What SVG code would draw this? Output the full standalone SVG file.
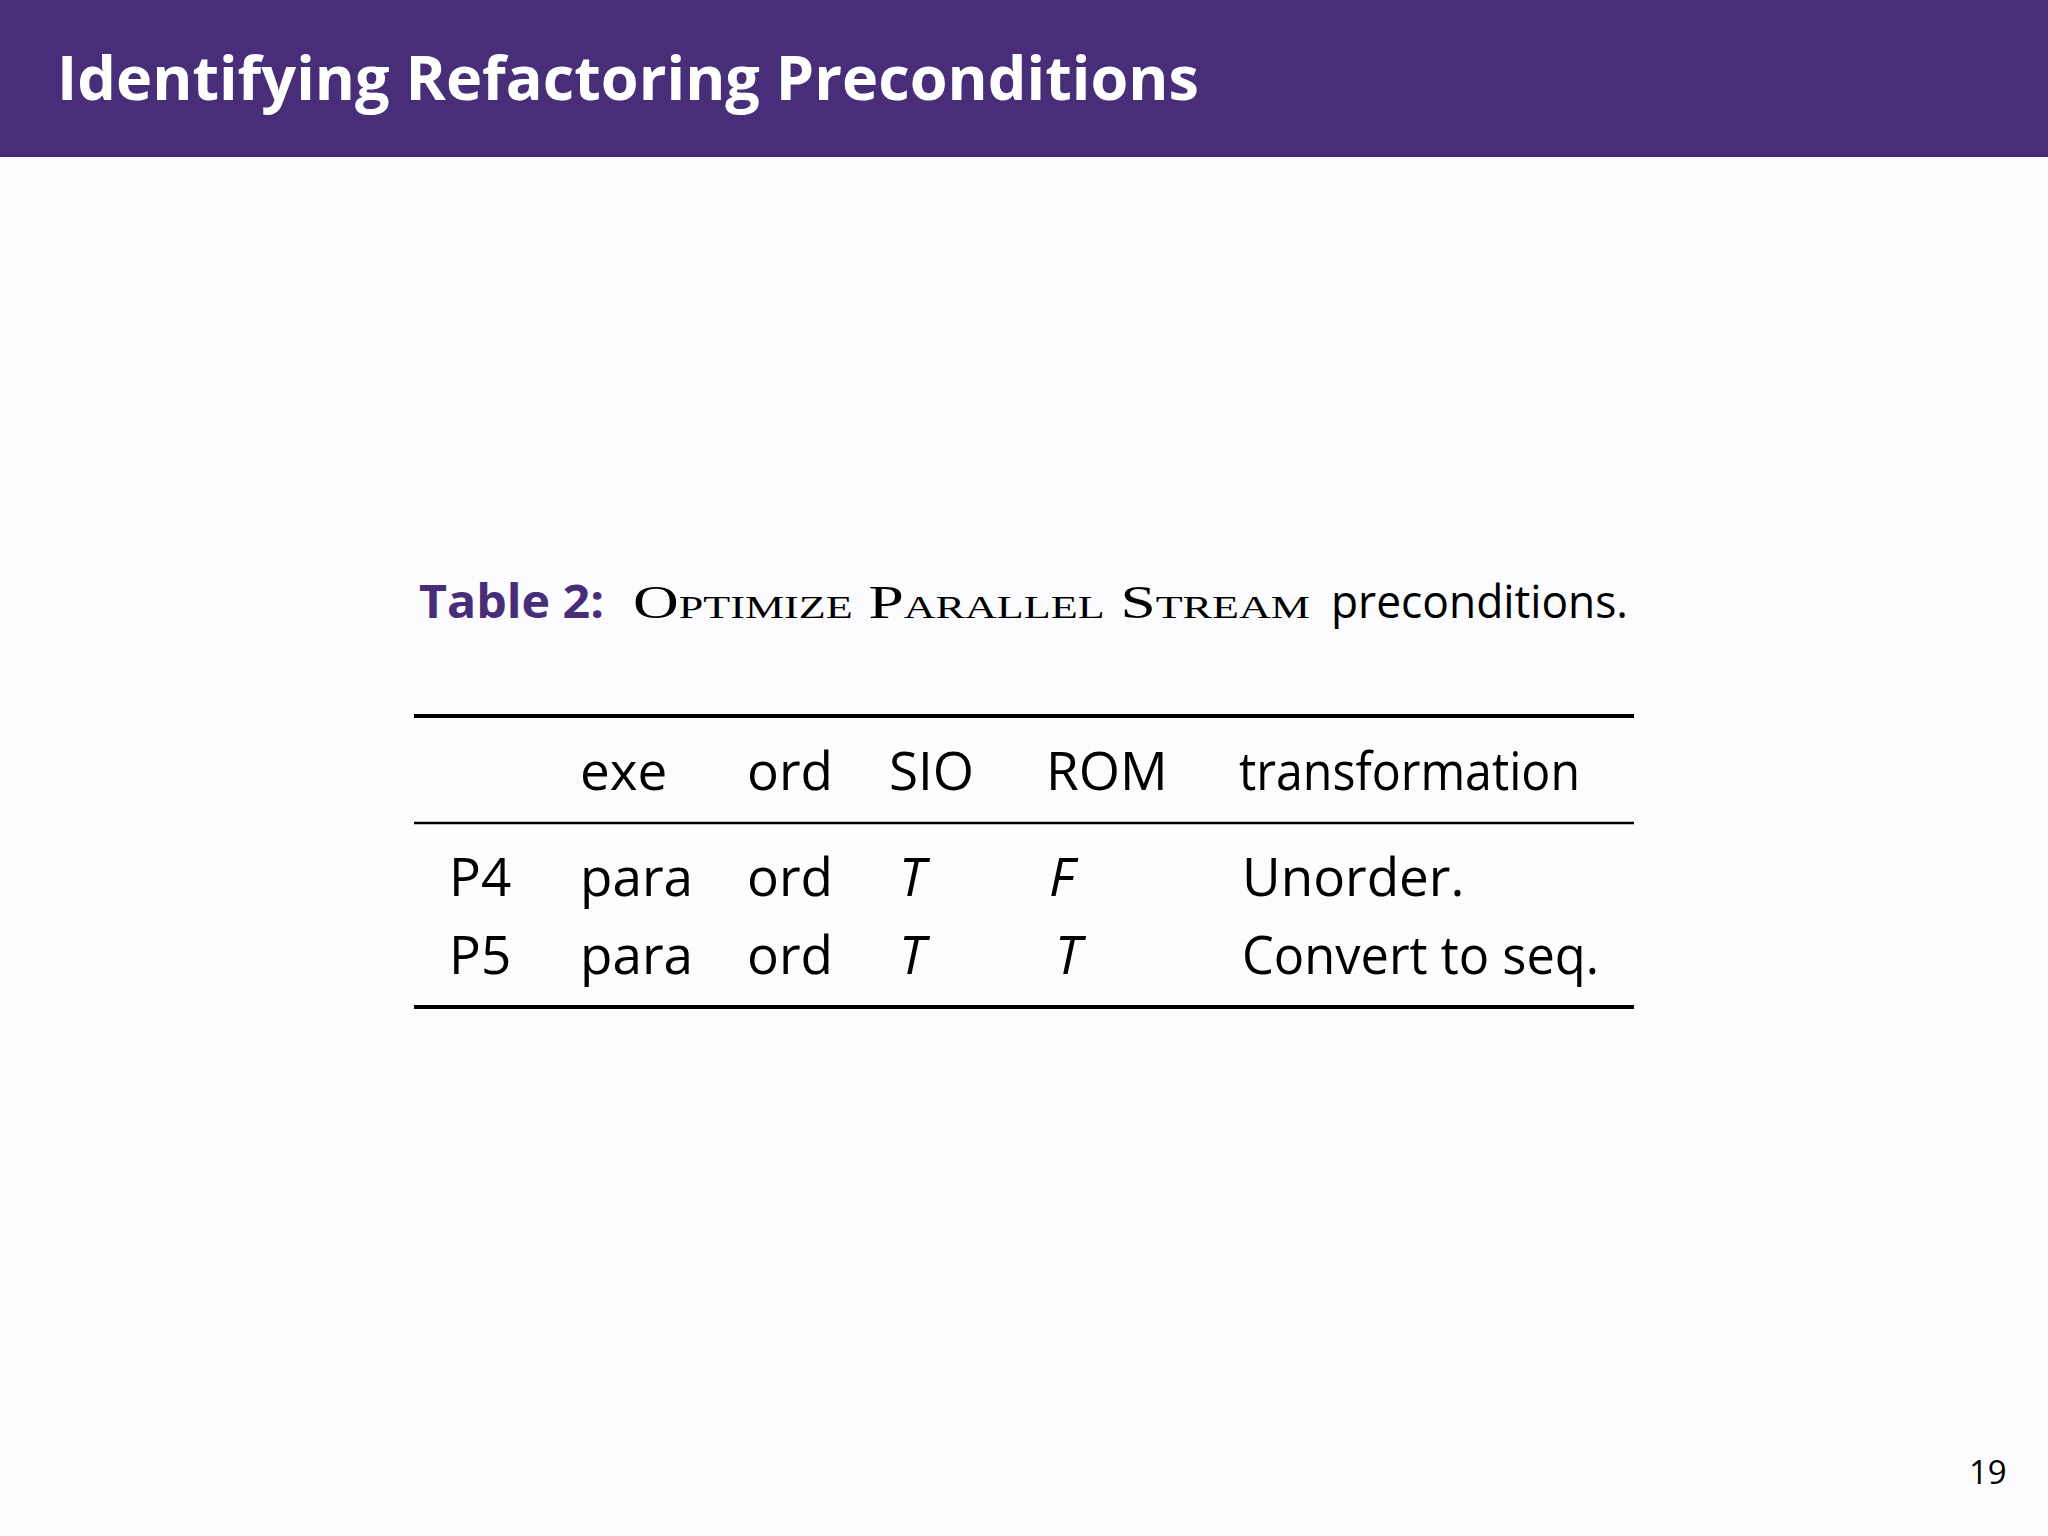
<svg xmlns="http://www.w3.org/2000/svg" width="2048" height="1536" viewBox="0 0 2048 1536">
<style>
.s{font-family:"Open Sans","DejaVu Sans",sans-serif;fill:#000}
.t{font-size:53px}
.i{font-style:italic}
</style>
<rect width="2048" height="1536" fill="#fcfbfd"/>
<g id="header">
<rect width="2048" height="157" fill="#482d78"/>
<text x="57" y="100" font-family="'Open Sans','DejaVu Sans',sans-serif" font-weight="bold" font-size="61" fill="#fff" textLength="1142" lengthAdjust="spacingAndGlyphs">Identifying Refactoring Preconditions</text>
</g>
<g id="caption">
<text x="419" y="618" class="s" font-size="46" font-weight="bold" style="fill:#482d78" textLength="185" lengthAdjust="spacingAndGlyphs">Table 2:</text>
<text x="633" y="618" font-family="'Liberation Serif',serif" font-size="46" font-variant="small-caps" textLength="677" lengthAdjust="spacingAndGlyphs">Optimize Parallel Stream</text>
<text x="1331" y="618" class="s" font-size="45" textLength="297" lengthAdjust="spacingAndGlyphs">preconditions.</text>
</g>
<g id="table">
<line x1="414" y1="716" x2="1634" y2="716" stroke="#000" stroke-width="4"/>
<line x1="414" y1="823" x2="1634" y2="823" stroke="#000" stroke-width="2.5"/>
<line x1="414" y1="1007" x2="1634" y2="1007" stroke="#000" stroke-width="4"/>
<text class="s t" x="580" y="790">exe</text>
<text class="s t" x="747" y="790">ord</text>
<text class="s t" x="889" y="790">SIO</text>
<text class="s t" x="1046" y="790">ROM</text>
<text class="s t" x="1239" y="790" textLength="341" lengthAdjust="spacingAndGlyphs">transformation</text>
<text class="s t" x="449" y="896">P4</text>
<text class="s t" x="580" y="896">para</text>
<text class="s t" x="747" y="896">ord</text>
<text class="s t i" x="899" y="896">T</text>
<text class="s t i" x="1049" y="896">F</text>
<text class="s t" x="1242" y="896">Unorder.</text>
<text class="s t" x="449" y="974">P5</text>
<text class="s t" x="580" y="974">para</text>
<text class="s t" x="747" y="974">ord</text>
<text class="s t i" x="899" y="974">T</text>
<text class="s t i" x="1055" y="974">T</text>
<text class="s t" x="1242" y="974" textLength="357" lengthAdjust="spacingAndGlyphs">Convert to seq.</text>
</g>
<text x="1969" y="1484" class="s" font-size="33">19</text>
</svg>
